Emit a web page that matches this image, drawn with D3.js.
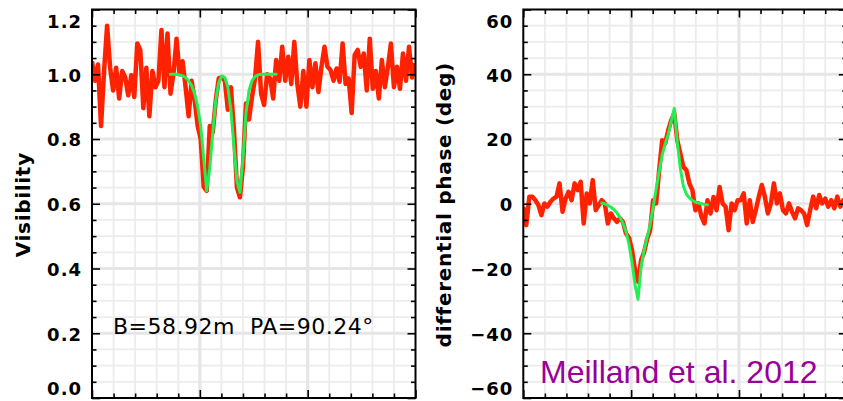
<!DOCTYPE html>
<html><head><meta charset="utf-8">
<script src="https://cdn.jsdelivr.net/npm/d3@7"></script>
<style>
html,body{margin:0;padding:0;background:#fff;overflow:hidden}
svg{display:block}
</style></head><body>
<script>
// Spectral channel grid across the Br gamma line (micron)
const LAMBDA0 = 2.160, DLAMBDA = 0.00014;
const LAMBDA_RANGE = [2.160, 2.175];

// Measured visibility per channel
const visibility = [
  1.04, 0.98, 1.03, 0.84, 1.01, 1.15, 1.02, 0.95, 1.02, 0.925,
  1.01, 0.99, 0.935, 0.997, 0.93, 1.095, 1.075, 0.895, 1.02, 0.87,
  1.01, 0.96, 0.98, 1.137, 0.96, 1.126, 0.94, 1.003, 1.11, 1.0,
  1.04, 0.96, 0.87, 0.98, 0.92, 0.84, 0.80, 0.652, 0.64, 0.84,
  0.82, 0.92, 0.988, 0.99, 0.98, 0.89, 0.96, 0.83, 0.65, 0.62,
  0.714, 0.91, 0.86, 0.93, 0.987, 1.10, 0.94, 0.905, 1.0, 0.987,
  0.925, 1.044, 0.98, 1.085, 0.98, 1.054, 0.97, 1.10, 0.97, 0.90,
  1.01, 0.90, 1.044, 0.96, 1.034, 0.945, 1.023, 1.085, 1.023, 1.013,
  0.98, 1.018, 0.977, 1.095, 0.97, 0.987, 0.88, 1.06, 1.075, 1.023,
  1.064, 0.95, 1.11, 0.955, 1.01, 0.925, 1.044, 0.96, 1.023, 1.095,
  0.96, 1.023, 0.955, 1.064, 0.98, 1.085, 0.99, 1.034
];

// Measured differential phase per channel (deg)
const phase = [
  -1, -6.6, 2.2, 2.2, 1.1, -0.4, -3.5, 0.1, -0.9, 0.6,
  1.6, 2.2, 6.3, -2.5, 1.6, 3.7, 1.1, 6.3, 4.2, 6.8,
  -6.1, 3.2, 0.1, 7.3, -2.0, -0.4, 1.1, 0.1, -6.1, -3.0,
  -4.5, -5.6, -4.5, -5.6, -9.2, -10.5, -14.3, -20.5, -24.1, -17.4,
  -15, -11, -8.2, 1.1, 0.1, 10.4, 19.6, 18.6, 22.7, 25.8,
  27.9, 19.6, 15.5, 11.4, 10.4, 6.3, 4.2, -2.0, 0.1, -4.0,
  -6.1, 1.1, -3.0, 2.1, -2.0, 5.2, 0.1, -0.9, -8.2, 0.1,
  -2.0, 1.1, 1.1, 3.2, -6.1, 1.1, -5.6, -2.0, 2.2, 5.8,
  2.2, -3.0, 0.1, 6.3, 0.1, 3.2, -2.0, -3.0, 0.1, -2.5,
  -4.5, -1.4, -2.0, -3.0, -6.6, -2.0, 2.2, -1.4, 2.7, 0.1,
  1.6, -0.9, 1.1, -1.4, 2.2, -0.9, 1.1, 0
];

// Kinematic model, evaluated on the same channels starting at MODEL_START
const MODEL_START = 26;
const visModel = [
  1.0, 1.0, 1.0, 0.998, 0.995, 0.99, 0.98, 0.965, 0.94, 0.90,
  0.84, 0.74, 0.64, 0.71, 0.82, 0.92, 0.975, 0.995, 0.99, 0.96,
  0.89, 0.78, 0.67, 0.635, 0.74, 0.88, 0.95, 0.98, 0.993, 0.998,
  1.0, 1.0, 1.0, 1.0, 1.0, 1.0
];
const phaseModel = [
  0.2, 0, -0.5, -1.0, -1.8, -2.8, -4.2, -6.0, -8.5, -12.5,
  -18.0, -25.0, -29.5, -19.5, -14.5, -10.5, -6.5, -1.0, 4.5, 10.0,
  15.0, 18.5, 21.5, 25.5, 29.5, 19.0, 11.0, 5.5, 3.0, 1.8,
  1.0, 0.5, 0.2, 0, -0.2, -0.3
];

const visTicks = [0, 0.2, 0.4, 0.6, 0.8, 1.0, 1.2];
const phaseTicks = [-60, -40, -20, 0, 20, 40, 60];
const baselineNote = "B=58.92m  PA=90.24\u00b0";
const credit = "Meilland et al. 2012";

const W = 843, H = 401;
const TOP = 9.5, BOTTOM = 398;
const RED = "#ff2200", GREEN = "#22ee55";

const svg = d3.select("body").append("svg").attr("width", W).attr("height", H);

const panels = [
  { id: "vis", x0: 92, x1: 415.5, domain: [0, 1.2], ticks: visTicks,
    fmt: d3.format(".1f"), obs: visibility, model: visModel,
    title: "Visibility", titleX: 23 },
  { id: "dphi", x0: 523.3, x1: 846.8, domain: [-60, 60], ticks: phaseTicks,
    fmt: d => d < 0 ? "\u2212" + Math.abs(d) : String(d), obs: phase, model: phaseModel,
    title: "differential phase (deg)", titleX: 444 }
];

const lambda = i => LAMBDA0 + i * DLAMBDA;

panels.forEach(p => {
  const x = d3.scaleLinear().domain(LAMBDA_RANGE).range([p.x0, p.x1]);
  const y = d3.scaleLinear().domain(p.domain).range([BOTTOM, TOP]);
  const g = svg.append("g");

  const xMinor = x.ticks(15), xMajor = x.ticks(3);
  const yMinor = y.ticks(24), yMajor = p.ticks;
  const inner = (v, dom) => v > dom[0] + 1e-9 && v < dom[1] - 1e-9;

  // background grid
  const grid = g.append("g");
  grid.selectAll(".vmin").data(xMinor.filter(v => inner(v, LAMBDA_RANGE))).join("line")
    .attr("x1", d => x(d)).attr("x2", d => x(d)).attr("y1", TOP).attr("y2", BOTTOM)
    .attr("stroke", "#ececec").attr("stroke-width", 1.8);
  grid.selectAll(".hmin").data(yMinor.filter(v => inner(v, p.domain))).join("line")
    .attr("y1", d => y(d)).attr("y2", d => y(d)).attr("x1", p.x0).attr("x2", p.x1)
    .attr("stroke", "#ececec").attr("stroke-width", 1.8);
  grid.append("g").selectAll("line").data(xMajor.filter(v => inner(v, LAMBDA_RANGE))).join("line")
    .attr("x1", d => x(d)).attr("x2", d => x(d)).attr("y1", TOP).attr("y2", BOTTOM)
    .attr("stroke", "#e6e6e6").attr("stroke-width", 3.2);
  grid.append("g").selectAll("line").data(yMajor.filter(v => inner(v, p.domain))).join("line")
    .attr("y1", d => y(d)).attr("y2", d => y(d)).attr("x1", p.x0).attr("x2", p.x1)
    .attr("stroke", "#e6e6e6").attr("stroke-width", 3.2);

  // data and model curves
  const clipId = "clip-" + p.id;
  svg.append("clipPath").attr("id", clipId).append("rect")
    .attr("x", p.x0).attr("y", TOP).attr("width", p.x1 - p.x0).attr("height", BOTTOM - TOP);
  const curves = g.append("g").attr("clip-path", `url(#${clipId})`);
  const line = d3.line().x(d => x(d[0])).y(d => y(d[1]));
  curves.append("path")
    .datum(p.obs.map((v, i) => [lambda(i), v]))
    .attr("d", line).attr("fill", "none").attr("stroke", RED)
    .attr("stroke-width", 4.5).attr("stroke-linejoin", "round");
  curves.append("path")
    .datum(p.model.map((v, i) => [lambda(MODEL_START + i), v]))
    .attr("d", line).attr("fill", "none").attr("stroke", GREEN)
    .attr("stroke-width", 3).attr("stroke-linejoin", "round").attr("stroke-linecap", "round");

  // inward ticks on all four sides
  const tickStyle = sel => sel.call(s => s.select(".domain").remove())
    .selectAll(".tick line").attr("stroke", "#000").attr("stroke-width", 1.6);
  const minorY = yMinor.filter(v => !yMajor.some(m => Math.abs(m - v) < 1e-9));
  const minorX = xMinor.filter(v => !xMajor.some(m => Math.abs(m - v) < 1e-9));

  g.append("g").attr("transform", `translate(${p.x0},0)`)
    .call(d3.axisLeft(y).tickValues(minorY).tickSize(-4.5).tickFormat("")).call(tickStyle);
  g.append("g").attr("transform", `translate(${p.x1},0)`)
    .call(d3.axisRight(y).tickValues(minorY).tickSize(-4.5).tickFormat("")).call(tickStyle);
  g.append("g").attr("transform", `translate(${p.x1},0)`)
    .call(d3.axisRight(y).tickValues(yMajor).tickSize(-8).tickFormat("")).call(tickStyle);
  g.append("g").attr("transform", `translate(0,${TOP})`)
    .call(d3.axisTop(x).tickValues(minorX).tickSize(-4.5).tickFormat("")).call(tickStyle);
  g.append("g").attr("transform", `translate(0,${TOP})`)
    .call(d3.axisTop(x).tickValues(xMajor).tickSize(-8).tickFormat("")).call(tickStyle);
  g.append("g").attr("transform", `translate(0,${BOTTOM})`)
    .call(d3.axisBottom(x).tickValues(minorX).tickSize(-4.5).tickFormat("")).call(tickStyle);
  g.append("g").attr("transform", `translate(0,${BOTTOM})`)
    .call(d3.axisBottom(x).tickValues(xMajor).tickSize(-8).tickFormat("")).call(tickStyle);

  // labelled left axis
  const yAxis = g.append("g").attr("transform", `translate(${p.x0},0)`)
    .call(d3.axisLeft(y).tickValues(yMajor).tickSize(-8).tickPadding(10).tickFormat(p.fmt))
    .call(tickStyle);
  yAxis.selectAll(".tick text")
    .attr("fill", "#000")
    .attr("font-family", "'DejaVu Sans', sans-serif")
    .attr("font-weight", "bold").attr("font-size", 18)
    .attr("letter-spacing", 1)
    .attr("dy", d => d === p.domain[1] ? "1.0em" : d === p.domain[0] ? "-0.22em" : "0.38em");

  // frame
  g.append("rect").attr("x", p.x0).attr("y", TOP)
    .attr("width", p.x1 - p.x0).attr("height", BOTTOM - TOP)
    .attr("fill", "none").attr("stroke", "#000").attr("stroke-width", 2);

  // axis title
  svg.append("text")
    .attr("transform", `translate(${p.titleX},${(TOP + BOTTOM) / 2 + 1}) rotate(-90)`)
    .attr("text-anchor", "middle").attr("dominant-baseline", "central")
    .attr("font-family", "'DejaVu Sans', sans-serif").attr("font-weight", "bold")
    .attr("font-size", 20).attr("letter-spacing", 0.7)
    .text(p.title);
});

svg.append("text")
  .attr("x", 113).attr("y", 334)
  .attr("font-family", "'DejaVu Sans', sans-serif").attr("font-size", 22)
  .attr("letter-spacing", 0.5)
  .style("white-space", "pre")
  .text(baselineNote);

svg.append("text")
  .attr("x", 540).attr("y", 383)
  .attr("font-family", "'Liberation Sans', Arial, sans-serif").attr("font-size", 32)
  .attr("fill", "#990099")
  .text(credit);
</script>
</body></html>
